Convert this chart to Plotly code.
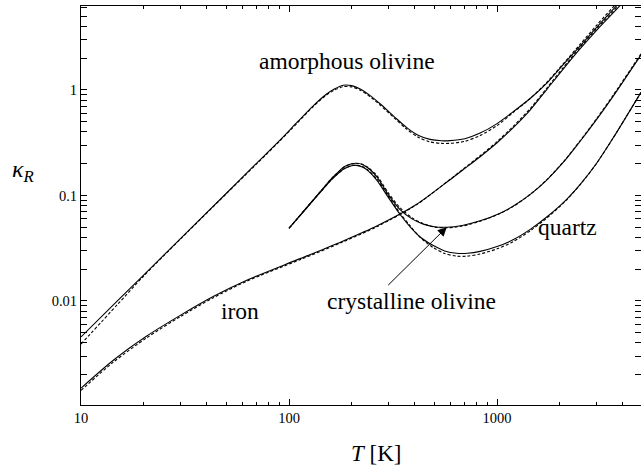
import plotly.graph_objects as go
import numpy as np

# ---------------- data ----------------
amo_T = [10, 15, 20, 30, 50, 70, 90, 110, 130, 150, 165, 182, 200, 220, 250, 274, 320, 368, 420, 476, 540, 594, 700, 829, 1000, 1193, 1442, 1740, 2075, 2505, 3025, 3900, 4920]
amo_k = [0.00456, 0.0101, 0.0176, 0.0388, 0.105, 0.203, 0.331, 0.5, 0.70, 0.90, 1.02, 1.11, 1.10, 1.02, 0.86, 0.74, 0.56, 0.44, 0.37, 0.34, 0.33, 0.331, 0.345, 0.39, 0.48, 0.62, 0.83, 1.17, 1.726, 2.61, 3.96, 6.82, 11.0]
amo_k_d = [0.0039, 0.0093, 0.0172, 0.0385, 0.104, 0.2, 0.327, 0.49, 0.69, 0.885, 0.995, 1.075, 1.07, 0.995, 0.84, 0.72, 0.545, 0.425, 0.355, 0.322, 0.312, 0.312, 0.326, 0.37, 0.46, 0.61, 0.83, 1.19, 1.76, 2.7, 4.15, 7.2, 12.0]

iron_T = [10, 14.3, 20.7, 30, 43.2, 62.6, 113, 180, 264, 411, 594, 687, 829, 1000, 1193, 1442, 1740, 2075, 2505, 3025, 3900, 4920]
iron_k = [0.00149, 0.00274, 0.00465, 0.0073, 0.0110, 0.0157, 0.0252, 0.0367, 0.0513, 0.0825, 0.141, 0.1755, 0.233, 0.316, 0.437, 0.645, 1.02, 1.57, 2.45, 3.72, 6.3, 10.6]
iron_k_d = [0.00142, 0.00263, 0.00448, 0.0071, 0.0107, 0.0154, 0.0246, 0.036, 0.0505, 0.082, 0.142, 0.178, 0.238, 0.324, 0.45, 0.665, 1.05, 1.62, 2.53, 3.85, 6.55, 11.1]

cry_T = [100, 120, 140, 160, 170, 185, 200, 212, 225, 240, 264, 300, 342, 390, 442, 500, 573, 680, 829, 1034, 1193, 1450, 1733, 2100, 2505, 3000, 3612, 4920]
cry_k = [0.0489, 0.0745, 0.1064, 0.1448, 0.163, 0.188, 0.200, 0.202, 0.197, 0.182, 0.151, 0.102, 0.0735, 0.060, 0.0535, 0.0505, 0.0500, 0.052, 0.0575, 0.068, 0.079, 0.103, 0.140, 0.210, 0.325, 0.52, 0.87, 2.15]
cry_k_d = [0.0489, 0.0745, 0.1062, 0.1445, 0.162, 0.187, 0.199, 0.201, 0.198, 0.184, 0.155, 0.106, 0.0765, 0.0615, 0.054, 0.0502, 0.0494, 0.0513, 0.057, 0.0675, 0.0785, 0.103, 0.141, 0.212, 0.33, 0.53, 0.89, 2.2]

qtz_T = [100, 120, 140, 160, 170, 185, 200, 210, 225, 240, 264, 300, 342, 382, 430, 494, 560, 640, 720, 829, 1000, 1193, 1450, 1733, 2100, 2505, 3000, 3612, 4920]
qtz_k = [0.0489, 0.074, 0.105, 0.141, 0.158, 0.18, 0.191, 0.193, 0.186, 0.171, 0.14, 0.096, 0.066, 0.0505, 0.040, 0.0335, 0.0298, 0.0283, 0.0283, 0.0295, 0.0328, 0.038, 0.048, 0.0625, 0.087, 0.127, 0.2, 0.35, 0.95]
qtz_k_d = [0.0489, 0.074, 0.105, 0.141, 0.158, 0.18, 0.192, 0.194, 0.188, 0.174, 0.144, 0.099, 0.068, 0.0515, 0.0395, 0.032, 0.0282, 0.0266, 0.0266, 0.0279, 0.0312, 0.0365, 0.0465, 0.061, 0.086, 0.126, 0.2, 0.35, 0.95]

labels = ["amorphous olivine", "iron", "quartz", "crystalline olivine"]
label_T = [191, 58, 2170, 390]
label_k = [1.88, 0.00804, 0.0503, 0.0100]

arrow_tip = (573, 0.050)
arrow_tail = (295, 0.0137)

x_ticks = [10, 100, 1000]
y_ticks = [0.01, 0.1, 1]
y_tick_text = ["0.01", "0.1", "1"]

# ---------------- figure ----------------
FONT = "Liberation Serif"
fig = go.Figure()

def add(T, k, dash):
    fig.add_trace(go.Scatter(
        x=T, y=k, mode="lines",
        line=dict(color="black", width=1.1, shape="spline", smoothing=0.8,
                  dash=("3px,2px" if dash else "solid")),
        showlegend=False, hoverinfo="skip"))

for T, ks, kd in [(amo_T, amo_k, amo_k_d), (iron_T, iron_k, iron_k_d),
                  (cry_T, cry_k, cry_k_d), (qtz_T, qtz_k, qtz_k_d)]:
    add(T, kd, True)
    add(T, ks, False)

minor_x = [m * d for d in (10, 100, 1000) for m in range(2, 10)]
minor_y = [m * d for d in (0.001, 0.01, 0.1, 1) for m in range(2, 10)]

axis_common = dict(type="log", showgrid=False, zeroline=False, showline=True,
                   linecolor="black", linewidth=1, mirror="allticks",
                   ticks="inside", tickcolor="black", ticklen=6, tickwidth=1,
                   tickfont=dict(family=FONT, size=14.5, color="black"))

fig.update_xaxes(**axis_common, range=[1, 3.692], tickmode="array",
                 tickvals=x_ticks, ticktext=[str(v) for v in x_ticks],
                 minor=dict(tickmode="array", tickvals=minor_x, ticks="inside",
                            ticklen=3, tickcolor="black", showgrid=False))
fig.update_yaxes(**axis_common, range=[-2.986, 0.796], tickmode="array",
                 tickvals=y_ticks, ticktext=y_tick_text,
                 minor=dict(tickmode="array", tickvals=minor_y, ticks="inside",
                            ticklen=6, tickcolor="black", showgrid=False))

ann = []
for t, T, k in zip(labels, label_T, label_k):
    ann.append(dict(x=np.log10(T), y=np.log10(k), xref="x", yref="y", text=t,
                    showarrow=False, font=dict(family=FONT, size=23.5, color="black"),
                    xanchor="center", yanchor="middle"))
ann.append(dict(x=np.log10(arrow_tip[0]), y=np.log10(arrow_tip[1]), xref="x", yref="y",
                ax=np.log10(arrow_tail[0]), ay=np.log10(arrow_tail[1]), axref="x", ayref="y",
                text="", showarrow=True, arrowhead=2, arrowsize=1.8, arrowwidth=1,
                arrowcolor="black", standoff=0))
ann.append(dict(x=(376 - 81) / 560, y=(405 - 453) / 399, xref="paper", yref="paper",
                text="<i>T</i> [K]", showarrow=False,
                font=dict(family=FONT, size=23, color="black"),
                xanchor="center", yanchor="middle"))
ann.append(dict(x=(23 - 81) / 560, y=(405 - 171) / 399, xref="paper", yref="paper",
                text="<i>κ</i><sub><i>R</i></sub>", showarrow=False,
                font=dict(family=FONT, size=24, color="black"),
                xanchor="center", yanchor="middle"))

fig.update_layout(width=641, height=468, autosize=False,
                  margin=dict(l=81, r=0, t=6, b=63),
                  paper_bgcolor="white", plot_bgcolor="white",
                  annotations=ann)

fig.write_html("out.html")
